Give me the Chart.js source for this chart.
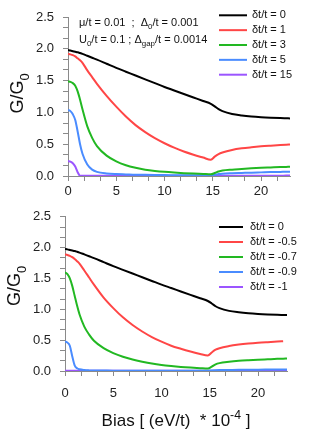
<!DOCTYPE html>
<html>
<head>
<meta charset="utf-8">
<script src="https://cdn.jsdelivr.net/npm/chart.js@4.4.1/dist/chart.umd.min.js"></script>
<style>
  html, body { margin: 0; padding: 0; background: #fff; }
  #wrap { position: relative; width: 310px; height: 440px; overflow: hidden; }
  canvas { position: absolute; left: 0; }
</style>
</head>
<body>
<div id="wrap">
  <canvas id="chartTop" width="310" height="215" style="top:0"></canvas>
  <canvas id="chartBottom" width="310" height="240" style="top:200px"></canvas>
</div>
<script>
// bias in units of (eV/t) * 1e-4
const bias = [0, 0.25, 0.5, 0.75, 1, 1.25, 1.5, 2, 2.5, 3, 4, 5, 6, 7, 8, 9, 10, 11, 12, 13, 14,
              14.8, 15.2, 15.6, 16, 17, 18, 19, 20, 21, 22, 22.6, 23];

// G/G0, shared curve dt/t = 0
const g0 = [1.98, 1.972, 1.963, 1.954, 1.945, 1.933, 1.92, 1.89, 1.86, 1.83, 1.765, 1.70, 1.64, 1.58, 1.52, 1.46, 1.40, 1.345, 1.29, 1.235, 1.18,
            1.135, 1.095, 1.05, 1.02, 0.975, 0.952, 0.936, 0.925, 0.917, 0.911, 0.908, 0.906];

// top panel
const gP1 = [1.92, 1.912, 1.90, 1.88, 1.85, 1.82, 1.78, 1.66, 1.555, 1.45, 1.26, 1.09, 0.935, 0.80, 0.69, 0.595, 0.515, 0.445, 0.385, 0.335, 0.29,
             0.255, 0.305, 0.345, 0.37, 0.41, 0.435, 0.452, 0.466, 0.477, 0.487, 0.492, 0.495];
const gP3 = [1.49, 1.48, 1.46, 1.42, 1.33, 1.20, 1.05, 0.78, 0.60, 0.47, 0.32, 0.23, 0.17, 0.13, 0.10, 0.08, 0.065, 0.054, 0.045, 0.038, 0.032,
             0.027, 0.047, 0.07, 0.085, 0.10, 0.11, 0.12, 0.128, 0.134, 0.14, 0.143, 0.145];
const gP5 = [1.04, 1.02, 0.97, 0.88, 0.70, 0.50, 0.35, 0.18, 0.10, 0.065, 0.04, 0.03, 0.025, 0.02, 0.018, 0.016, 0.014, 0.013, 0.012, 0.012, 0.012,
             0.012, 0.02, 0.03, 0.036, 0.043, 0.048, 0.053, 0.057, 0.061, 0.064, 0.066, 0.067];
const gP15 = [0.235, 0.225, 0.20, 0.15, 0.06, 0.004, 0.003, 0.003, 0.003, 0.003, 0.003, 0.003, 0.003, 0.003, 0.003, 0.003, 0.003, 0.003, 0.003, 0.003, 0.003,
              0.003, 0.004, 0.005, 0.005, 0.005, 0.005, 0.005, 0.005, 0.005, 0.005, 0.006, 0.006];

// bottom panel
const gM05 = [1.89, 1.882, 1.868, 1.845, 1.815, 1.78, 1.74, 1.63, 1.515, 1.40, 1.19, 1.02, 0.87, 0.745, 0.64, 0.55, 0.475, 0.41, 0.36, 0.315, 0.275,
              0.25, 0.30, 0.345, 0.37, 0.405, 0.428, 0.445, 0.458, 0.468, 0.477, 0.482, null];
const gM07 = [1.60, 1.57, 1.50, 1.38, 1.22, 1.06, 0.92, 0.72, 0.59, 0.49, 0.37, 0.29, 0.23, 0.185, 0.15, 0.12, 0.097, 0.08, 0.066, 0.055, 0.046,
              0.04, 0.07, 0.108, 0.128, 0.15, 0.165, 0.175, 0.183, 0.19, 0.197, 0.20, 0.203];
const gM09 = [0.48, 0.46, 0.41, 0.24, 0.09, 0.045, 0.028, 0.015, 0.01, 0.008, 0.007, 0.006, 0.006, 0.005, 0.005, 0.005, 0.005, 0.005, 0.005, 0.005, 0.005,
              0.005, 0.01, 0.013, 0.015, 0.017, 0.019, 0.02, 0.022, 0.023, 0.024, 0.025, 0.025];
const gM1 = [0.003, 0.003, 0.003, 0.003, 0.003, 0.003, 0.003, 0.003, 0.003, 0.003, 0.003, 0.003, 0.003, 0.003, 0.003, 0.003, 0.003, 0.003, 0.003, 0.003, 0.003,
             0.003, 0.003, 0.003, 0.003, 0.003, 0.003, 0.003, 0.003, 0.003, 0.003, 0.003, 0.003];

const labelsTop = ['δt/t = 0', 'δt/t = 1', 'δt/t = 3', 'δt/t = 5', 'δt/t = 15'];
const labelsBottom = ['δt/t = 0', 'δt/t = -0.5', 'δt/t = -0.7', 'δt/t = -0.9', 'δt/t = -1'];
const colors = ['#000000', '#ff4646', '#22b822', '#4a8cff', '#9b55ff'];

// axis ticks: major every 5 / 0.5, two minor ticks in between
const xTicks = [0, 5/3, 10/3, 5, 20/3, 25/3, 10, 35/3, 40/3, 15, 50/3, 55/3, 20, 65/3];
const yTicks = [0, 1/6, 2/6, 0.5, 4/6, 5/6, 1, 7/6, 8/6, 1.5, 10/6, 11/6, 2, 13/6, 14/6, 2.5];

const FONT = "'Liberation Sans', Arial, sans-serif";

function drawRich(ctx, parts, x, y, size, align) {
    // parts: [text, 'n' | 'sub' | 'sup']
    let w = 0;
    const sized = parts.map(([t, m]) => {
        const s = m === 'n' ? size : size * 0.72;
        ctx.font = s + 'px ' + FONT;
        const pw = ctx.measureText(t).width;
        w += pw;
        return { t, m, s, pw };
    });
    let cx = align === 'center' ? x - w / 2 : x;
    const base = y + size * 0.36;
    ctx.textAlign = 'left';
    ctx.textBaseline = 'alphabetic';
    for (const p of sized) {
        ctx.font = p.s + 'px ' + FONT;
        const dy = p.m === 'sub' ? size * 0.28 : p.m === 'sup' ? -size * 0.42 : 0;
        ctx.fillText(p.t, cx, base + dy);
        cx += p.pw;
    }
}

const overlay = {
    id: 'overlay',
    afterDraw(chart, args, o) {
        const ctx = chart.ctx;
        const area = chart.chartArea;
        ctx.save();
        ctx.fillStyle = '#111';

        // y axis title
        ctx.save();
        ctx.translate(o.yTitleX, (area.top + area.bottom) / 2 + o.yTitleShift);
        ctx.rotate(-Math.PI / 2);
        drawRich(ctx, [['G/G', 'n'], ['0', 'sub']], 0, 0, 18, 'center');
        ctx.restore();

        // x axis title
        if (o.xTitle) {
            drawRich(ctx, o.xTitle, (area.left + area.right) / 2, o.xTitleY, 17, 'center');
        }

        // parameter notes
        (o.notes || []).forEach(n => drawRich(ctx, n.parts, n.x, n.y, 11, 'left'));

        // legend
        chart.data.datasets.forEach((ds, i) => {
            const y = o.legendY + i * o.legendStep;
            ctx.strokeStyle = ds.borderColor;
            ctx.lineWidth = 2;
            ctx.beginPath();
            ctx.moveTo(o.legendX, y);
            ctx.lineTo(o.legendX + o.legendLen, y);
            ctx.stroke();
            ctx.fillStyle = '#111';
            ctx.font = '11px ' + FONT;
            ctx.textAlign = 'left';
            ctx.textBaseline = 'middle';
            ctx.fillText(ds.label, o.legendTextX, y);
        });
        ctx.restore();
    }
};

function makeChart(id, labels, series, cfg) {
    const datasets = series.map((vals, i) => ({
        label: labels[i],
        data: bias.map((x, k) => ({ x: x, y: vals[k] })),
        borderColor: colors[i],
        borderWidth: 2,
        pointRadius: 0,
        fill: false,
        cubicInterpolationMode: 'monotone',
        spanGaps: false
    }));

    return new Chart(document.getElementById(id), {
        type: 'line',
        data: { datasets },
        plugins: [overlay],
        options: {
            responsive: false,
            animation: false,
            devicePixelRatio: 1,
            layout: { padding: { top: cfg.top, right: cfg.right, left: 0, bottom: 0 } },
            plugins: {
                legend: { display: false },
                tooltip: { enabled: false },
                overlay: cfg.overlay
            },
            scales: {
                x: {
                    type: 'linear',
                    min: 0,
                    max: 23,
                    afterBuildTicks: s => { s.ticks = xTicks.map(v => ({ value: v })); },
                    afterFit: s => { s.height = cfg.xHeight; },
                    ticks: {
                        autoSkip: false,
                        maxRotation: 0,
                        padding: cfg.xPad,
                        color: '#222',
                        font: { family: FONT, size: 13 },
                        callback: v => Math.abs(v / 5 - Math.round(v / 5)) < 1e-6 ? String(Math.round(v)) : ''
                    },
                    grid: { drawOnChartArea: false, drawTicks: true, tickLength: 5, tickColor: '#8a8a8a' },
                    border: { color: '#8a8a8a', width: 1 }
                },
                y: {
                    min: 0,
                    max: 2.5,
                    afterBuildTicks: s => { s.ticks = yTicks.map(v => ({ value: v })); },
                    afterFit: s => { s.width = cfg.left; },
                    ticks: {
                        autoSkip: false,
                        padding: 9,
                        color: '#222',
                        font: { family: FONT, size: 13 },
                        callback: v => Math.abs(v * 2 - Math.round(v * 2)) < 1e-6 ? v.toFixed(1) : ''
                    },
                    grid: { drawOnChartArea: false, drawTicks: true, tickLength: 5, tickColor: '#8a8a8a' },
                    border: { color: '#8a8a8a', width: 1 }
                }
            }
        }
    });
}

makeChart('chartTop', labelsTop, [g0, gP1, gP3, gP5, gP15], {
    top: 17, right: 20, left: 68, xHeight: 39, xPad: 3,
    overlay: {
        yTitleX: 17, yTitleShift: -3,
        legendX: 219, legendLen: 28, legendTextX: 252, legendY: 15.3, legendStep: 14.85,
        notes: [
            { x: 79, y: 22, parts: [['μ/t = 0.01  ;  Δ', 'n'], ['0', 'sub'], ['/t = 0.001', 'n']] },
            { x: 79, y: 39, parts: [['U', 'n'], ['0', 'sub'], ['/t = 0.1 ; Δ', 'n'], ['gap', 'sub'], ['/t = 0.0014', 'n']] }
        ]
    }
});

makeChart('chartBottom', labelsBottom, [g0, gM05, gM07, gM09, gM1], {
    top: 11, right: 23, left: 65, xHeight: 69, xPad: 10,
    overlay: {
        yTitleX: 14, yTitleShift: -8,
        legendX: 219, legendLen: 24, legendTextX: 250, legendY: 27, legendStep: 15,
        xTitle: [['Bias [ (eV/t)  * 10', 'n'], ['-4', 'sup'], [' ]', 'n']],
        xTitleY: 220
    }
});
</script>
</body>
</html>
